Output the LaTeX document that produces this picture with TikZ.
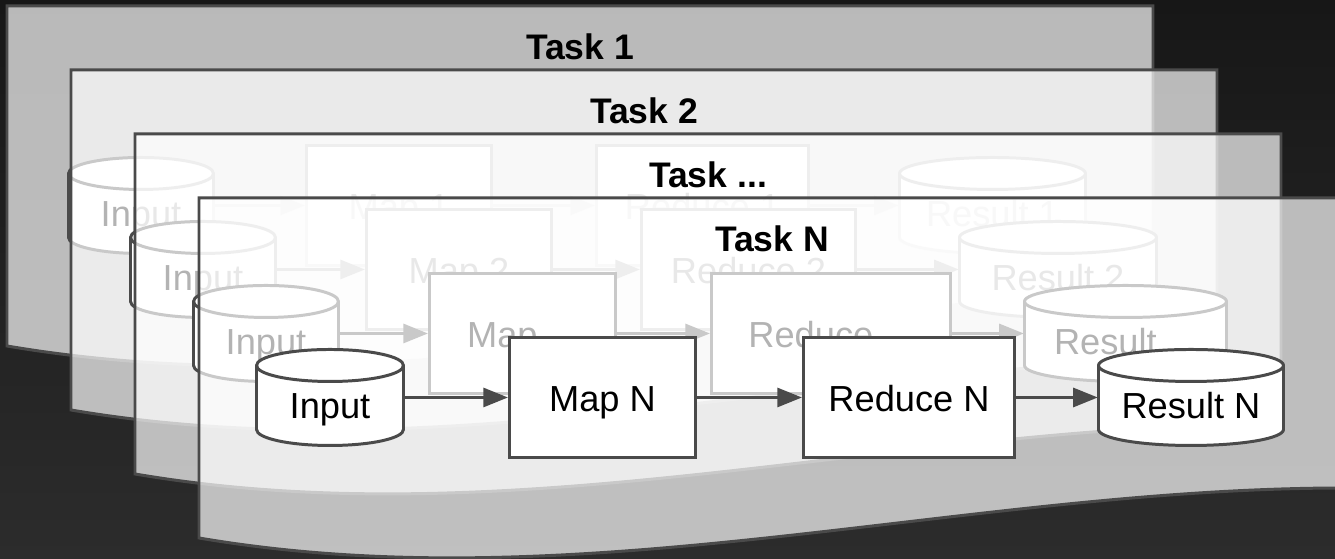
\documentclass[tikz,border=0pt]{standalone}
\usepackage{fontspec}
\setmainfont{Liberation Sans}
\usetikzlibrary{arrows.meta}

\definecolor{bgtop}{HTML}{171717}
\definecolor{bgbot}{HTML}{2C2C2C}
\definecolor{edge}{HTML}{4A4A4A}

\tikzset{
  sheet/.style={draw=edge, line width=0.85pt, fill=white, fill opacity=0.7},
  title/.style={font=\fontsize{10.1}{12}\selectfont\bfseries},
  procbox/.style={draw=edge, fill=white, line width=0.85pt, minimum height=1.2cm, inner sep=0pt,
    font=\fontsize{10.3}{12}\selectfont, text height=1em, text depth=0.2em},
  store/.style={minimum height=0.96cm, inner sep=0pt,
    font=\fontsize{10.3}{12}\selectfont, text height=1.4em, text depth=0.2em},
  cylline/.style={draw=edge, fill=white, line width=0.85pt},
  flow/.style={draw=edge, line width=0.85pt, -{Triangle[length=7pt,width=5.4pt]}}
}

% cylinder: name, centre x, centre y, outer width, text
\newcommand{\dbcyl}[5]{%
  \draw[cylline] ({#2-#4/2+1.5},{#3-32}) -- ({#2-#4/2+1.5},{#3+32})
    arc[start angle=180,end angle=0,x radius={#4/2-1.5},y radius=16]
    -- ({#2+#4/2-1.5},{#3-32})
    arc[start angle=0,end angle=-180,x radius={#4/2-1.5},y radius=16] -- cycle;
  \draw[cylline, fill=none] ({#2-#4/2+1.5},{#3-32})
    arc[start angle=180,end angle=0,x radius={#4/2-1.5},y radius=16];
  \node[store, minimum width={(#4-3)*0.01cm}] (#1) at (#2,#3) {#5};
}

\begin{document}
\begin{tikzpicture}[x=0.01cm, y=-0.01cm]
\useasboundingbox (0,0) rectangle (1335,559);
\clip (0,0) rectangle (1335,559);
\shade [top color=bgtop, bottom color=bgbot] (0,0) rectangle (1335,559);

%%% Task 1
\draw[sheet] (7,6) -- (1153,6) -- (1153,296) .. controls (771,296) and (389,411) .. (7,346) -- cycle;
\node[title] (t1) at (580,47) {Task 1};

\dbcyl{in1}{141}{205.5}{148}{Input}
\node[procbox, minimum width=1.85cm] (map1) at (399,205.5) {Map 1};
\node[procbox, minimum width=2.12cm] (red1) at (702.5,205.5) {Reduce 1};
\dbcyl{res1}{992.5}{205.5}{189}{Result 1}

\draw[flow] (in1) -- (map1);
\draw[flow] (map1) -- (red1);
\draw[flow] (red1) -- (res1);

%%% Task 2
\draw[sheet] (71,70) -- (1217,70) -- (1217,360) .. controls (835,360) and (453,475) .. (71,410) -- cycle;
\node[title] (t2) at (644,111) {Task 2};

\dbcyl{in2}{203}{269.5}{148}{Input}
\node[procbox, minimum width=1.85cm] (map2) at (459,269.5) {Map 2};
\node[procbox, minimum width=2.14cm] (red2) at (748.5,269.5) {Reduce 2};
\dbcyl{res2}{1058}{269.5}{200}{Result 2}

\draw[flow] (in2) -- (map2);
\draw[flow] (map2) -- (red2);
\draw[flow] (red2) -- (res2);

%%% Task ...
\draw[sheet] (135,134) -- (1281,134) -- (1281,424) .. controls (899,424) and (517,539) .. (135,474) -- cycle;
\node[title] (t3) at (708,175) {Task ...};

\dbcyl{in3}{266}{333.5}{148}{Input}
\node[procbox, minimum width=1.86cm] (map3) at (522.5,333.5) {Map ...};
\node[procbox, minimum width=2.39cm] (red3) at (831,333.5) {Reduce ...};
\dbcyl{res3}{1125.5}{333.5}{205}{Result ...}

\draw[flow] (in3) -- (map3);
\draw[flow] (map3) -- (red3);
\draw[flow] (red3) -- (res3);

%%% Task N
\draw[sheet] (199,198) -- (1345,198) -- (1345,488) .. controls (963,488) and (581,603) .. (199,538) -- cycle;
\node[title] (t4) at (772,239) {Task N};

\dbcyl{in4}{330}{397.5}{150}{Input}
\node[procbox, minimum width=1.86cm] (map4) at (602.5,397.5) {Map N};
\node[procbox, minimum width=2.11cm] (red4) at (909,397.5) {Reduce N};
\dbcyl{res4}{1191}{397.5}{188}{Result N}

\draw[flow] (in4) -- (map4);
\draw[flow] (map4) -- (red4);
\draw[flow] (red4) -- (res4);
\end{tikzpicture}
\end{document}
